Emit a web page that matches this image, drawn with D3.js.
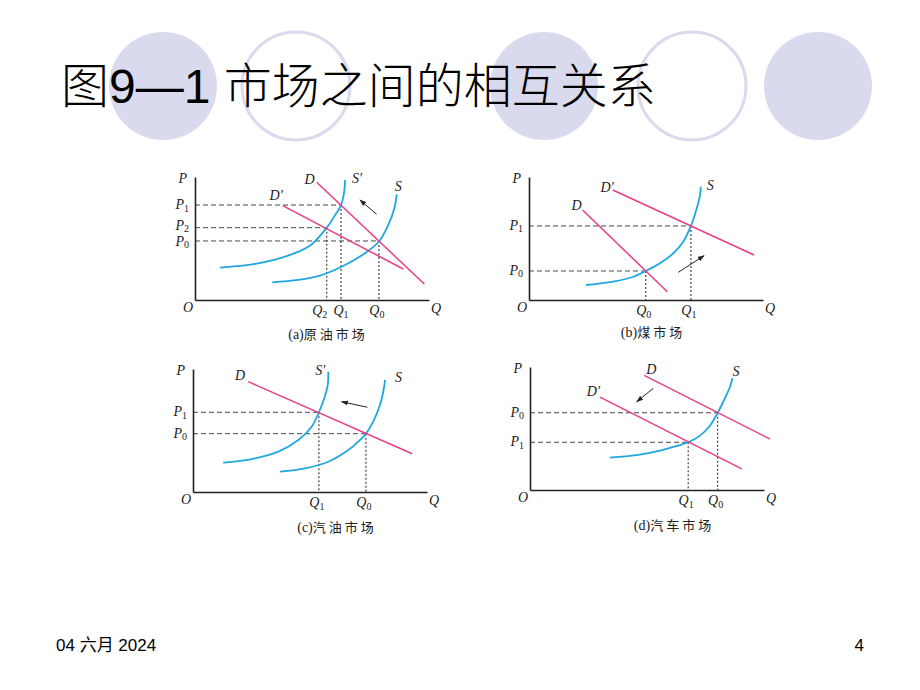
<!DOCTYPE html>
<html>
<head>
<meta charset="utf-8">
<script src="https://cdn.jsdelivr.net/npm/d3@7"></script>
<style>
  html, body { margin: 0; padding: 0; background: #fff; }
  svg { display: block; }
</style>
</head>
<body>
<svg id="chart" width="920" height="690"></svg>
<script>
// slide decoration
var circleCentersX = [163, 296, 544, 692, 818];
var circleFilled = [true, false, true, false, true];

var titleText = '图9—1 市场之间的相互关系';
var footerDate = '04 六月 2024';
var pageNumber = '4';

var captionTags = ['(a)', '(b)', '(c)', '(d)'];
var captionNames = ['原油市场', '煤市场', '汽油市场', '汽车市场'];

// (a) crude oil: supply shifts left, demand follows
var aSupply = [[33, 14.4], [44.1, 16.3], [54.1, 20.3], [64.1, 28.5], [72.6, 38], [78.8, 48], [82.6, 61], [85.2, 74.6], [86.2, 85.9]];
var aSupplyNew = [[10.7, 26.3], [22.8, 28.5], [34.2, 32.8], [44.2, 39.3], [49.9, 45.3], [56.3, 58.8], [59.8, 68.8], [62.4, 77.2], [63.8, 88.5], [64.1, 97.6]];
var aDemand = [[52, 95.7], [98, 13]];
var aDemandNew = [[37.5, 76.7], [89, 25.2]];
var aEquilibria = [[78.6, 48, '0'], [62.4, 77.2, '1'], [56.3, 58.8, '2']];
var aArrow = [[77.6, 69.7], [70.5, 81.3]];

// (b) coal: demand shifts right
var bSupply = [[24.4, 12.2], [36, 14.9], [44.6, 18.9], [49.9, 23.6], [56, 29.8], [61.7, 38], [65.9, 47.4], [69.2, 60.2], [71.7, 74.5], [73.1, 85.4], [73.4, 92.1]];
var bDemand = [[22.9, 73.2], [59.1, 6.7]];
var bDemandNew = [[35.8, 89.4], [96.2, 36.6]];
var bEquilibria = [[49.9, 23.6, '0'], [69.2, 60.2, '1']];
var bArrow = [[63.8, 22.5], [74.8, 36]];

// (c) gasoline: supply shifts left
var cSupply = [[37.2, 16.5], [47.9, 19.3], [57.8, 24.6], [66.4, 34.1], [70.6, 40.9], [73.9, 47.4], [77, 57.2], [79.9, 70.7], [81.3, 81.5], [82.1, 91.1]];
var cSupplyNew = [[12.9, 23.8], [25.1, 26.8], [36.5, 32.8], [45, 42.3], [50.7, 53.1], [53.8, 64.8], [56.1, 76.2], [57.6, 87], [57.8, 97.8]];
var cDemand = [[23.6, 89.7], [93.7, 31.1]];
var cEquilibria = [[73.9, 47.4, '0'], [53.8, 64.8, '1']];
var cArrow = [[74.5, 68.9], [63.5, 73.4]];

// (d) cars: demand shifts left
var dSupply = [[34.2, 26.3], [45.6, 28.3], [55.6, 32], [62.7, 35.8], [67.6, 38.8], [72.5, 44], [76.8, 52], [80.2, 62.8], [83.3, 74.6], [85.5, 84], [86.5, 90.8]];
var dDemand = [[48.8, 93.2], [102.6, 41.4]];
var dDemandNew = [[29.9, 75.5], [90.5, 17.2]];
var dEquilibria = [[80.2, 62.8, '0'], [67.6, 38.8, '1']];
var dArrow = [[52.7, 82.7], [45.6, 71.8]];

var W = 234, H = 123;
var blue = '#1fa8e0', pink = '#e83e84', ink = '#222';
var serif = '"Liberation Serif", "Times New Roman", serif';

var svg = d3.select('#chart');

svg.append('defs').append('marker')
    .attr('id', 'head')
    .attr('viewBox', '0 -4 10 8')
    .attr('refX', 9).attr('refY', 0)
    .attr('markerWidth', 7).attr('markerHeight', 6)
    .attr('markerUnits', 'userSpaceOnUse')
    .attr('orient', 'auto')
    .append('path').attr('d', 'M0,-3.5L10,0L0,3.5Z').attr('fill', ink);

// background circles
svg.selectAll('circle.deco').data(circleCentersX).enter()
    .append('circle')
        .attr('class', 'deco')
        .attr('cx', function(d) { return d; })
        .attr('cy', 86)
        .attr('r', 54)
        .attr('fill', function(d, i) { return circleFilled[i] ? '#dadaee' : '#fff'; })
        .attr('stroke', '#dadaee')
        .attr('stroke-width', function(d, i) { return circleFilled[i] ? 0 : 3; });

svg.append('text')
    .attr('x', 61).attr('y', 103)
    .attr('font-family', '"Liberation Sans", Arial, "Noto Sans CJK SC", sans-serif')
    .attr('font-size', 48)
    .attr('font-weight', 300)
    .attr('fill', '#000')
    .text(titleText);

svg.append('text')
    .attr('x', 56).attr('y', 651)
    .attr('font-family', '"Liberation Sans", Arial, "Noto Sans CJK SC", sans-serif')
    .attr('font-size', 17)
    .text(footerDate);

svg.append('text')
    .attr('x', 864).attr('y', 651)
    .attr('text-anchor', 'end')
    .attr('font-family', '"Liberation Sans", Arial, sans-serif')
    .attr('font-size', 17)
    .text(pageNumber);

function label(g, x, y, main, sub, anchor, size) {
    var t = g.append('text')
        .attr('x', x).attr('y', y)
        .attr('text-anchor', anchor || 'start')
        .attr('font-family', serif)
        .attr('font-style', 'italic')
        .attr('font-size', size || 14)
        .attr('fill', ink)
        .text(main);
    if (sub) {
        t.append('tspan')
            .attr('font-style', 'normal')
            .attr('font-size', 10)
            .attr('dy', 2.5)
            .text(sub);
    }
    return t;
}

var panels = [
    {left: 195, bottom: 300, capX: 328, capY: 339,
     equilibria: aEquilibria, arrow: aArrow, qShift: {'2': -5, '1': 2}, pShift: {'2': -2, '0': 1},
     curves: [
        {pts: aSupply, color: blue, smooth: true, text: 'S', at: 'last', anchor: 'start', dx: -2, dy: -3},
        {pts: aSupplyNew, color: blue, smooth: true, text: 'S′', at: 'last', anchor: 'start', dx: 7, dy: 3},
        {pts: aDemand, color: pink, text: 'D', at: 'first', anchor: 'end', dx: -2, dy: 2},
        {pts: aDemandNew, color: pink, text: 'D′', at: 'first', anchor: 'end', dx: 0, dy: -6}
     ]},
    {left: 529, bottom: 300, capX: 653, capY: 337,
     equilibria: bEquilibria, arrow: bArrow, qShift: {}, pShift: {},
     curves: [
        {pts: bSupply, color: blue, smooth: true, text: 'S', at: 'last', anchor: 'start', dx: 6, dy: 3},
        {pts: bDemand, color: pink, text: 'D', at: 'first', anchor: 'end', dx: -1, dy: 0},
        {pts: bDemandNew, color: pink, text: 'D′', at: 'first', anchor: 'end', dx: 1, dy: 2}
     ]},
    {left: 193, bottom: 492, capX: 337, capY: 532,
     equilibria: cEquilibria, arrow: cArrow, qShift: {}, pShift: {},
     curves: [
        {pts: cSupply, color: blue, smooth: true, text: 'S', at: 'last', anchor: 'start', dx: 10, dy: 2},
        {pts: cSupplyNew, color: blue, smooth: true, text: 'S′', at: 'last', anchor: 'end', dx: -3, dy: 3},
        {pts: cDemand, color: pink, text: 'D', at: 'first', anchor: 'end', dx: -3, dy: -2}
     ]},
    {left: 530, bottom: 490, capX: 674, capY: 530,
     equilibria: dEquilibria, arrow: dArrow, qShift: {}, pShift: {},
     curves: [
        {pts: dSupply, color: blue, smooth: true, text: 'S', at: 'last', anchor: 'start', dx: 0, dy: -2},
        {pts: dDemand, color: pink, text: 'D', at: 'first', anchor: 'start', dx: 2, dy: -1},
        {pts: dDemandNew, color: pink, text: 'D′', at: 'first', anchor: 'end', dx: 0, dy: -1}
     ]}
];

panels.forEach(function(p, pi) {
    var x = d3.scaleLinear().domain([0, 100]).range([p.left, p.left + W]);
    var y = d3.scaleLinear().domain([0, 100]).range([p.bottom, p.bottom - H]);
    var g = svg.append('g');

    var straight = d3.line()
        .x(function(d) { return x(d[0]); })
        .y(function(d) { return y(d[1]); });
    var smooth = d3.line()
        .curve(d3.curveCatmullRom.alpha(0.5))
        .x(function(d) { return x(d[0]); })
        .y(function(d) { return y(d[1]); });

    // dashed guides to the axes
    p.equilibria.forEach(function(e) {
        g.append('line')
            .attr('x1', x(0)).attr('x2', x(e[0]))
            .attr('y1', y(e[1])).attr('y2', y(e[1]))
            .attr('stroke', '#333').attr('stroke-width', 0.9)
            .attr('stroke-dasharray', '5,3');
        g.append('line')
            .attr('x1', x(e[0])).attr('x2', x(e[0]))
            .attr('y1', y(e[1])).attr('y2', y(0))
            .attr('stroke', '#333').attr('stroke-width', 1.1)
            .attr('stroke-dasharray', '2,2');
        label(g, x(0) - 6, y(e[1]) + 4 + (p.pShift[e[2]] || 0), 'P', e[2], 'end');
        label(g, x(e[0]) - 2 + (p.qShift[e[2]] || 0), y(0) + 15, 'Q', e[2], 'middle');
    });

    // axes
    var xa = g.append('g')
        .attr('transform', 'translate(0,' + p.bottom + ')')
        .call(d3.axisBottom(x).ticks(0).tickSizeOuter(0));
    var ya = g.append('g')
        .attr('transform', 'translate(' + p.left + ',0)')
        .call(d3.axisLeft(y).ticks(0).tickSizeOuter(0));
    [xa, ya].forEach(function(a) {
        a.select('.domain').attr('stroke', ink).attr('stroke-width', 1.6);
    });

    label(g, x(0) - 8, y(100) + 6, 'P', null, 'end', 14);
    label(g, x(0) - 2, y(0) + 12, 'O', null, 'end', 14);
    label(g, x(100) + 2, y(0) + 13, 'Q', null, 'start', 14);

    p.curves.forEach(function(c) {
        g.append('path')
            .attr('d', (c.smooth ? smooth : straight)(c.pts))
            .attr('fill', 'none')
            .attr('stroke', c.color)
            .attr('stroke-width', c.smooth ? 1.8 : 1.5);
        var end = c.at === 'last' ? c.pts[c.pts.length - 1] : c.pts[0];
        label(g, x(end[0]) + c.dx, y(end[1]) + c.dy, c.text, null, c.anchor);
    });

    g.append('line')
        .attr('x1', x(p.arrow[0][0])).attr('y1', y(p.arrow[0][1]))
        .attr('x2', x(p.arrow[1][0])).attr('y2', y(p.arrow[1][1]))
        .attr('stroke', ink).attr('stroke-width', 1)
        .attr('marker-end', 'url(#head)');

    var cap = g.append('text')
        .attr('x', p.capX).attr('y', p.capY)
        .attr('text-anchor', 'middle')
        .attr('font-size', 13)
        .attr('fill', ink);
    cap.append('tspan')
        .attr('font-family', serif)
        .attr('font-size', 14)
        .text(captionTags[pi]);
    cap.append('tspan')
        .attr('font-family', '"Noto Sans CJK SC", sans-serif')
        .attr('letter-spacing', 3)
        .text(captionNames[pi]);
});
</script>
</body>
</html>
